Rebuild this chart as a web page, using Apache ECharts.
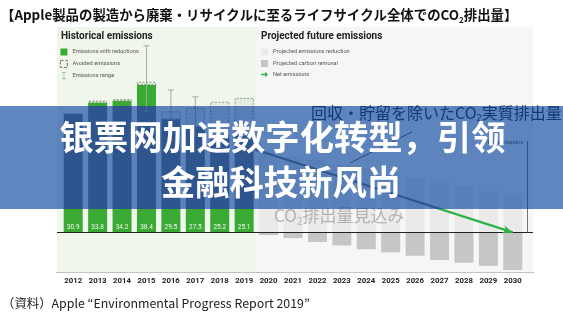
<!DOCTYPE html>
<html><head><meta charset="utf-8">
<script src="https://cdn.jsdelivr.net/npm/echarts@6/dist/echarts.min.js"></script>
<style>html,body{margin:0;padding:0;background:#fff}#c{width:563px;height:317px}</style>
</head><body><div id="c"></div>
<script>
// ---- data ----
const years = ['2012','2013','2014','2015','2016','2017','2018','2019','2020','2021','2022','2023','2024','2025','2026','2027','2028','2029','2030'];
const withReductions = [30.9,33.8,34.2,38.4,29.5,27.5,25.2,25.1,null,null,null,null,null,null,null,null,null,null,null];
const avoided = [null,0.5,0.5,0.8,2.0,4.9,8.8,9.9,null,null,null,null,null,null,null,null,null,null,null];
const rangeLow = [null,null,null,31.5,26.0,25.0,null,null,null,null,null,null,null,null,null,null,null,null,null];
const rangeHigh = [null,null,null,48.6,37.1,35.3,null,null,null,null,null,null,null,null,null,null,null,null,null];
const projReduction = [null,null,null,null,null,null,null,null,21.2,19.9,18.9,17.7,16.7,15.4,14.3,13.3,12.0,10.7,9.8];
const carbonRemoval = [null,null,null,null,null,null,null,null,-0.7,-1.5,-2.5,-3.4,-4.4,-5.2,-6.1,-7.2,-7.9,-8.7,-9.8];
const netArrowYears = ['2019','2030'];
const netArrowValues = [22.5,0];
const netBracketValue = 23.8;
const yTicks = {min:-10.5, max:53.5};

const FONT_JP = '"Noto Sans CJK JP", sans-serif';
const FONT_SC = '"Noto Sans CJK SC", sans-serif';
const FONT_L = 'Roboto, "Liberation Sans", sans-serif';
const GREEN = '#3aaa35';

const chart = echarts.init(document.getElementById('c'), null, {renderer:'canvas'});

const rangeData = years.map((y,i)=> rangeLow[i]!=null ? [i, rangeLow[i], rangeHigh[i]] : null).filter(Boolean);
// year-unit axis for panels (same pixel mapping as category centers)
const X1MIN = 2011.337, X1MAX = 2030.829, XSPLIT = 2019.5, XBRACKET = 2030.59;

const option = {
  backgroundColor:'#ffffff',
  animation:false,
  title:[
    {text:'{b|【Apple製品の製造から廃棄・リサイクルに至るライフサイクル全体でのCO}{s|2}{b|排出量】}',
     left:1, top:6, padding:0,
     textStyle:{rich:{
       b:{fontSize:13.4, fontWeight:'bold', fontFamily:FONT_JP, color:'#111', lineHeight:18},
       s:{fontSize:8, fontWeight:'bold', fontFamily:FONT_JP, color:'#111', lineHeight:9, verticalAlign:'bottom'}
     }}},
    {text:'（資料）Apple “Environmental Progress Report 2019”', left:2, top:297.5, padding:0,
     textStyle:{fontSize:12.4, fontWeight:'normal', fontFamily:FONT_JP, color:'#222'}},
    {text:'Historical emissions', left:61, top:31, padding:0,
     textStyle:{fontSize:10, fontWeight:'bold', fontFamily:FONT_L, color:'#222'}},
    {text:'Projected future emissions', left:261, top:31, padding:0,
     textStyle:{fontSize:10, fontWeight:'bold', fontFamily:FONT_L, color:'#222'}}
  ],
  legend:[
    {data:[
      {name:'Emissions with reductions', icon:'rect'},
      {name:'Avoided emissions', icon:'rect', itemStyle:{color:'#eef3ec', borderColor:'#555', borderWidth:0.8, borderType:'dashed'}},
      {name:'Emissions range', icon:'path://M0,0H6V1H3.5V9H6V10H0V9H2.5V1H0Z', itemStyle:{color:'#9aae98'}}
     ],
     orient:'vertical', left:60, top:48.5, itemWidth:7, itemHeight:7, itemGap:4.5, padding:0, selectedMode:false,
     textStyle:{fontSize:5.7, color:'#555', fontFamily:FONT_L}},
    {data:[
      {name:'Projected emissions reduction', icon:'rect'},
      {name:'Projected carbon removal', icon:'rect'},
      {name:'Net emissions', icon:'path://M0,4H6V1L10,5L6,9V6H0Z', itemStyle:{color:'#2db34a'}}
     ],
     orient:'vertical', left:261, top:48.5, itemWidth:7, itemHeight:7, itemGap:4.5, padding:0, selectedMode:false,
     textStyle:{fontSize:5.7, color:'#555', fontFamily:FONT_L}}
  ],
  grid:[
    {left:61, right:38, top:27, bottom:44.3, outerBoundsMode:'none'},
    {left:57, right:30, top:27, bottom:44.3, outerBoundsMode:'none'}
  ],
  xAxis:[
    {type:'category', gridIndex:0, data:years, position:'bottom',
     axisLine:{show:false, onZero:false}, axisTick:{show:false}, splitLine:{show:false},
     axisLabel:{interval:0, margin:4, fontSize:7.8, fontWeight:'bold', color:'#222', fontFamily:FONT_L}},
    {type:'value', gridIndex:1, min:X1MIN, max:X1MAX, position:'bottom',
     axisLine:{show:true, onZero:false, lineStyle:{color:'#333', width:1}},
     axisTick:{show:false}, axisLabel:{show:false}, splitLine:{show:false}}
  ],
  yAxis:[
    {type:'value', gridIndex:0, min:yTicks.min, max:yTicks.max, show:false, splitLine:{show:false}},
    {type:'value', gridIndex:1, min:yTicks.min, max:yTicks.max, show:false, splitLine:{show:false}}
  ],
  series:[
    {name:'bg', type:'line', xAxisIndex:1, yAxisIndex:1, data:[], silent:true, z:0,
     markArea:{silent:true, data:[
       [{xAxis:X1MIN, yAxis:yTicks.min, itemStyle:{color:'#f0f6eb'}},{xAxis:XSPLIT, yAxis:yTicks.max}],
       [{xAxis:XSPLIT, yAxis:yTicks.min, itemStyle:{color:'#f5f6f5'}},{xAxis:X1MAX, yAxis:yTicks.max}]
     ]},
     markLine:{silent:true, symbol:'none', label:{show:false}, lineStyle:{color:'#222', width:1, type:'solid'},
       data:[
         {yAxis:0},
         [{coord:[XBRACKET, netBracketValue], lineStyle:{color:'#555', width:0.8}},{coord:[XBRACKET, 0]}],
         [{coord:[2025.88, 26.2], lineStyle:{color:'#333', width:0.8}},{coord:[2023.34, 18.1]}]
       ]}
    },
    {name:'Emissions with reductions', type:'bar', xAxisIndex:0, yAxisIndex:0, stack:'all', barWidth:19,
     data:withReductions, itemStyle:{color:GREEN},
     label:{show:true, position:'insideBottom', distance:2, color:'#f2fbf0', fontSize:6.5, fontFamily:FONT_L,
       formatter:p=>Number(p.value).toFixed(1)}},
    {name:'Avoided emissions', type:'bar', xAxisIndex:0, yAxisIndex:0, stack:'all', barWidth:19,
     data:avoided, itemStyle:{color:'#e3ece0', borderColor:'#6f8b6d', borderWidth:0.8, borderType:[2,1.5]}},
    {name:'Projected emissions reduction', type:'bar', xAxisIndex:0, yAxisIndex:0, stack:'all', barWidth:19,
     data:projReduction, itemStyle:{color:'#eaeaea'}},
    {name:'Projected carbon removal', type:'bar', xAxisIndex:0, yAxisIndex:0, stack:'all', barWidth:19,
     data:carbonRemoval, itemStyle:{color:'#c6c6c6'}},
    {name:'Emissions range', type:'custom', xAxisIndex:0, yAxisIndex:0, z:3, data:rangeData,
     encode:{x:0, y:[1,2]}, itemStyle:{color:'#9aae98'},
     renderItem:(params, api)=>{
       const hi = api.coord([api.value(0), api.value(2)]);
       const lo = api.coord([api.value(0), api.value(1)]);
       const h = 3, st = {stroke:'#9aae98', lineWidth:1};
       return {type:'group', children:[
         {type:'line', shape:{x1:hi[0], y1:hi[1], x2:lo[0], y2:lo[1]}, style:st},
         {type:'line', shape:{x1:hi[0]-h, y1:hi[1], x2:hi[0]+h, y2:hi[1]}, style:st},
         {type:'line', shape:{x1:lo[0]-h, y1:lo[1], x2:lo[0]+h, y2:lo[1]}, style:st}
       ]};
     }},
    {name:'Net emissions', type:'line', xAxisIndex:0, yAxisIndex:0, data:[], color:'#2db34a', z:4,
     markLine:{silent:true, symbol:['none','arrow'], symbolSize:[6,10], label:{show:false},
       lineStyle:{color:'#2db34a', width:2.2, type:'solid'},
       data:[[{coord:[years.indexOf(netArrowYears[0]), netArrowValues[0]]},{coord:[years.indexOf(netArrowYears[1]), netArrowValues[1]]}]]}}
  ],
  graphic:[
    {type:'text', z:50, style:{x:274, y:216, verticalAlign:'middle',
      text:'{a|CO}{s|2}{a|排出量見込み}',
      rich:{a:{fontSize:17, fontFamily:FONT_JP, fill:'#b3b3b3', lineHeight:20},
            s:{fontSize:10, fontFamily:FONT_JP, fill:'#b3b3b3', lineHeight:10, verticalAlign:'bottom'}}}},
    {type:'text', z:50, style:{x:311, y:113, verticalAlign:'middle',
      text:'{a|回収・貯留を除いたCO}{s|2}{a|実質排出量}',
      rich:{a:{fontSize:16, fontFamily:FONT_JP, fill:'#333', lineHeight:18},
            s:{fontSize:9.5, fontFamily:FONT_JP, fill:'#333', lineHeight:9, verticalAlign:'bottom'}}}},
    {type:'text', z:50, style:{x:523, y:143, align:'right', verticalAlign:'middle', text:'Net emissions',
      fontSize:5.5, fontFamily:FONT_L, fill:'#555'}},
    // banner overlay
    {type:'rect', z:100, shape:{x:0, y:106, width:563, height:103}, style:{fill:'#808080', blend:'saturation'}},
    {type:'rect', z:101, shape:{x:0, y:106, width:563, height:103}, style:{fill:'rgba(0,62,155,0.62)'}},
    {type:'text', z:102, style:{x:282.5, y:137, align:'center', verticalAlign:'middle',
      text:'银票网加速数字化转型，引领', fontSize:34.3, fontWeight:'bold', fontFamily:FONT_SC, fill:'#ffffff'}},
    {type:'text', z:102, style:{x:281, y:181.5, align:'center', verticalAlign:'middle',
      text:'金融科技新风尚', fontSize:34.3, fontWeight:'bold', fontFamily:FONT_SC, fill:'#ffffff'}}
  ]
};
chart.setOption(option);
</script></body></html>
